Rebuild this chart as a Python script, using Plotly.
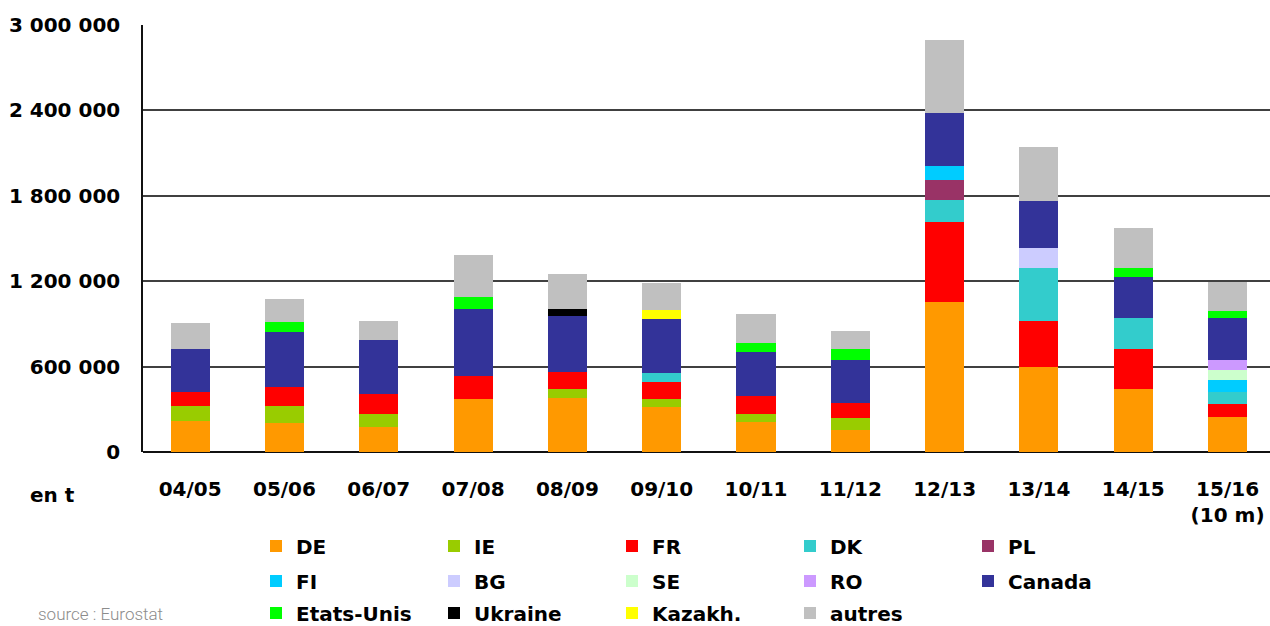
import plotly.graph_objects as go

# Campaign years (last one covers 10 months)
campaigns = ["04/05", "05/06", "06/07", "07/08", "08/09", "09/10",
             "10/11", "11/12", "12/13", "13/14", "14/15", "15/16<br>(10 m)"]

# Tonnages by origin, in t
DE = [218000, 204000, 176000, 372000, 382000, 316000, 213000, 155000, 1054000, 597000, 443000, 246000]
IE = [105000, 119000, 91000, 0, 59000, 56000, 54000, 84000, 0, 0, 0, 0]
FR = [100000, 133000, 141000, 164000, 119000, 119000, 129000, 105000, 562000, 323000, 281000, 91000]
DK = [0, 0, 0, 0, 0, 63000, 0, 0, 155000, 372000, 218000, 84000]
PL = [0, 0, 0, 0, 0, 0, 0, 0, 141000, 0, 0, 0]
FI = [0, 0, 0, 0, 0, 0, 0, 0, 98000, 0, 0, 84000]
BG = [0, 0, 0, 0, 0, 0, 0, 0, 0, 141000, 0, 0]
SE = [0, 0, 0, 0, 0, 0, 0, 0, 0, 0, 0, 70000]
RO = [0, 0, 0, 0, 0, 0, 0, 0, 0, 0, 0, 70000]
CANADA = [300000, 386000, 379000, 469000, 393000, 379000, 307000, 302000, 372000, 330000, 288000, 295000]
ETATS_UNIS = [0, 70000, 0, 84000, 0, 0, 63000, 77000, 0, 0, 63000, 49000]
UKRAINE = [0, 0, 0, 0, 49000, 0, 0, 0, 0, 0, 0, 0]
KAZAKH = [0, 0, 0, 0, 0, 63000, 0, 0, 0, 0, 0, 0]
AUTRES = [183000, 162000, 133000, 295000, 246000, 190000, 204000, 126000, 513000, 379000, 281000, 204000]

# Y axis ticks
y_tickvals = [0, 600000, 1200000, 1800000, 2400000, 3000000]
y_ticktext = ["0", "600 000", "1 200 000", "1 800 000", "2 400 000", "3 000 000"]

# (name, values, colour, legend row)
series = [
    ("DE", DE, "#FF9900", "legend"),
    ("IE", IE, "#99CC00", "legend"),
    ("FR", FR, "#FF0000", "legend"),
    ("DK", DK, "#33CCCC", "legend"),
    ("PL", PL, "#993366", "legend"),
    ("FI", FI, "#00CCFF", "legend2"),
    ("BG", BG, "#CCCCFF", "legend2"),
    ("SE", SE, "#CCFFCC", "legend2"),
    ("RO", RO, "#CC99FF", "legend2"),
    ("Canada", CANADA, "#333399", "legend2"),
    ("Etats-Unis", ETATS_UNIS, "#00FF00", "legend3"),
    ("Ukraine", UKRAINE, "#000000", "legend3"),
    ("Kazakh.", KAZAKH, "#FFFF00", "legend3"),
    ("autres", AUTRES, "#C0C0C0", "legend3"),
]

FONT = "DejaVu Sans"
W, H = 1270, 626

fig = go.Figure()
for name, vals, color, leg in series:
    fig.add_trace(go.Bar(
        x=campaigns, y=vals, name=name, legend=leg,
        marker=dict(color=color, line=dict(width=0)),
        hoverinfo="name+y",
    ))

legend_common = dict(
    orientation="h", xref="container", yref="container",
    xanchor="left", yanchor="middle",
    entrywidth=133, entrywidthmode="pixels",
    traceorder="normal",
    font=dict(family=FONT, size=20, color="#000000", weight="bold"),
    bgcolor="rgba(0,0,0,0)", borderwidth=0,
    itemclick=False, itemdoubleclick=False,
)
row_y = [546, 581, 613]
legend_x = 256

fig.update_layout(
    width=W, height=H,
    margin=dict(l=143, r=0, t=25, b=174),
    paper_bgcolor="white", plot_bgcolor="white",
    barmode="stack", bargap=0.586,
    showlegend=True,
    legend=dict(legend_common, x=legend_x / W, y=1 - row_y[0] / H),
    legend2=dict(legend_common, x=legend_x / W, y=1 - row_y[1] / H),
    legend3=dict(legend_common, x=legend_x / W, y=1 - row_y[2] / H),
    xaxis=dict(
        type="category", range=[-0.5, 11.45],
        showgrid=False, showline=False, ticks="",
        ticklabelstandoff=23,
        tickfont=dict(family=FONT, size=20, color="#000000", weight="bold"),
    ),
    yaxis=dict(
        range=[0, 3000000],
        tickvals=y_tickvals, ticktext=y_ticktext,
        showgrid=True, gridcolor="#404040", gridwidth=2,
        zeroline=True, zerolinecolor="#111111", zerolinewidth=2,
        showline=True, linecolor="#111111", linewidth=1.5,
        ticks="", ticklabelstandoff=17,
        tickfont=dict(family=FONT, size=20, color="#000000", weight="bold"),
    ),
)

# Free texts placed in pixel terms relative to the plot area
plot_l, plot_t, plot_w, plot_h = 143, 25, W - 143, H - 25 - 174
def to_paper(px, py):
    return (px - plot_l) / plot_w, 1 - (py - plot_t) / plot_h

ax, ay = to_paper(28, 495)
sx, sy = to_paper(36, 614)
fig.update_layout(annotations=[
    dict(text="en t", xref="paper", yref="paper", x=ax, y=ay,
         showarrow=False, xanchor="left", yanchor="middle",
         font=dict(family=FONT, size=20, color="#000000", weight="bold")),
    dict(text="source : Eurostat", xref="paper", yref="paper", x=sx, y=sy,
         showarrow=False, xanchor="left", yanchor="middle",
         font=dict(family="Roboto", size=17, color="#8c8c8c", weight=300)),
])

fig.write_html("out.html")
